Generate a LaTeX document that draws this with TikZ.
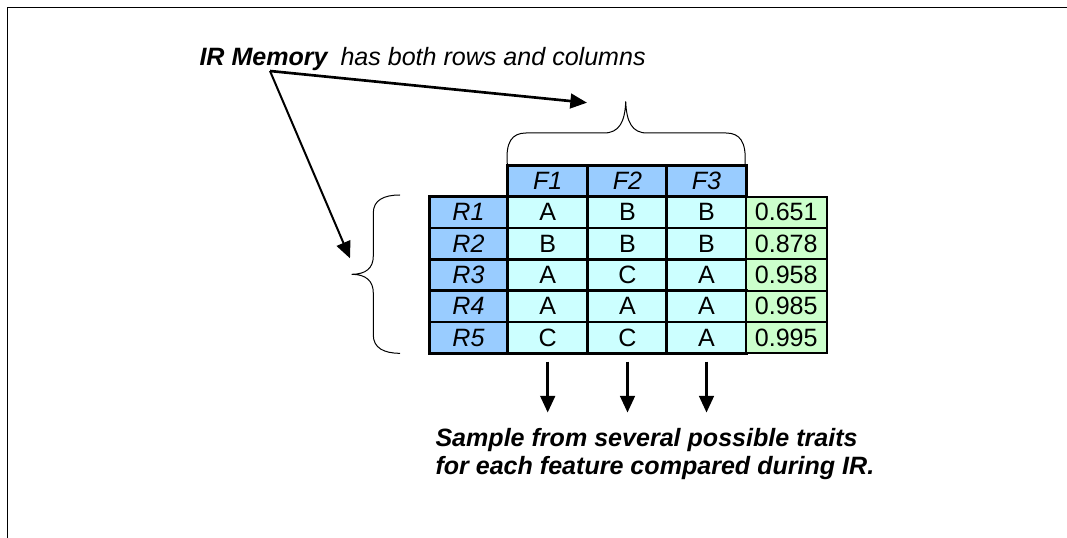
\documentclass[tikz,border=0pt]{standalone}
\usepackage{fontspec}
\setmainfont{Liberation Sans}
\usetikzlibrary{arrows.meta}

\definecolor{hdrblue}{RGB}{153,204,255}
\definecolor{cellcyan}{RGB}{204,255,255}
\definecolor{scoregreen}{RGB}{204,255,204}

\tikzset{every picture/.style={line width=0.75pt}}
\tikzset{
  cellbox/.style={draw, line width=2pt, minimum width=60pt, minimum height=23.48pt, inner sep=0pt, font=\fontsize{18.8}{22}\selectfont},
  labelbox/.style={cellbox, fill=hdrblue, minimum width=58.8pt, font=\fontsize{18.8}{22}\selectfont\itshape},
  featbox/.style={cellbox, fill=hdrblue, font=\fontsize{18.8}{22}\selectfont\itshape},
  valbox/.style={cellbox, fill=cellcyan},
  scorebox/.style={cellbox, fill=scoregreen, minimum width=60.75pt, line width=1.5pt},
  bigtip/.style={-{Triangle[length=12.5pt,width=11pt]}},
  txtnode/.style={inner sep=0pt, font=\fontsize{18.8}{21}\selectfont}
}

\begin{document}
\begin{tikzpicture}[x=0.75pt,y=0.75pt,yscale=-1,xscale=1]
\useasboundingbox (0,0) rectangle (1067,538);

%Shape: Frame
\draw [line width=1.25pt] (7.5,545) -- (7.5,7.5) -- (1075,7.5);

% Text Node
\node [txtnode, anchor=base west] (mem) at (199,66) {\bfseries\itshape IR Memory};
% Text Node
\node [txtnode, anchor=base west] (has) at (340,66) {\itshape has both rows and columns};

%Header row
\node [featbox] (f1) at (547.7,181.05) {F1};
\node [featbox] (f2) at (627.5,181.05) {F2};
\node [featbox] (f3) at (706.5,181.05) {F3};

%Table rows
\foreach \lab/\va/\vb/\vc/\sc [count=\i] in {R1/A/B/B/0.651, R2/B/B/B/0.878, R3/A/C/A/0.958, R4/A/A/A/0.985, R5/C/C/A/0.995}{
  \node [labelbox] (r\i) at (468.5,{212.35+31.3*(\i-1)}) {\lab};
  \node [valbox] (c\i1) at (547.7,{212.35+31.3*(\i-1)}) {\va};
  \node [valbox] (c\i2) at (627.5,{212.35+31.3*(\i-1)}) {\vb};
  \node [valbox] (c\i3) at (706.5,{212.35+31.3*(\i-1)}) {\vc};
  \node [scorebox] (s\i) at (786.2,{212.35+31.3*(\i-1)}) {\sc};
}

%Shape: Brace over columns
\draw (507.3,164) .. controls (505.5,142) and (512,133) .. (526,133) -- (604,133) .. controls (619,133) and (625,122) .. (625.7,101.5) .. controls (626.5,122) and (632,133) .. (647,133) -- (726,133) .. controls (740,133) and (746.5,142) .. (745,164) ;
%Shape: Brace beside rows
\draw (400,195) .. controls (384,195) and (373.3,200) .. (373.3,213) -- (373.3,256) .. controls (373.3,268) and (366,274.3) .. (351.7,274.3) .. controls (366,274.3) and (373.3,281) .. (373.3,293) -- (373.3,335) .. controls (373.3,348) and (384,353.3) .. (400,353.3) ;

%Arrows from the title
\coordinate (memfoot) at (270,71);
\coordinate (colbrace) at (587,102.7);
\coordinate (rowbrace) at (350,258.3);
\draw [bigtip, line width=2pt] (memfoot) -- (colbrace);
\draw [bigtip, line width=1.5pt] (memfoot) -- (rowbrace);

%Arrows under the feature columns
\foreach \k in {1,2,3}{
  \coordinate (dn\k) at ([yshift=5.3pt]c5\k.south);
  \coordinate (tip\k) at ([yshift=43.5pt]c5\k.south);
  \draw [bigtip, line width=2pt] (dn\k) -- (tip\k);
}

% Text Node
\node [txtnode, anchor=north west, align=left] (note) at (435,428) {\bfseries\itshape Sample from several possible traits\\ \bfseries\itshape for each feature compared during IR.};

\end{tikzpicture}
\end{document}
